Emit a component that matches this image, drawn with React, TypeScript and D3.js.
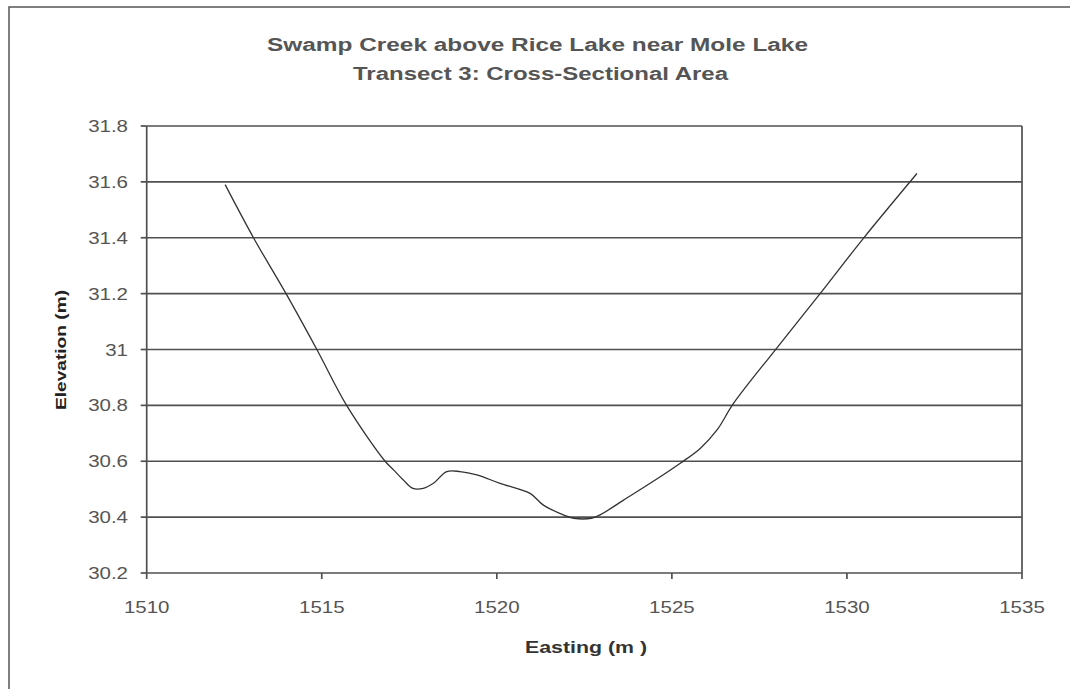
import React from "react";
import * as d3 from "d3";

const titleLines = ["Swamp Creek above Rice Lake near Mole Lake", "Transect 3: Cross-Sectional Area"];
const xLabel = "Easting (m )";
const yLabel = "Elevation (m)";

const easting = [
  1512.24, 1513.05, 1513.98, 1514.86, 1515.71, 1516.81, 1517.05, 1517.33, 1517.6, 1517.9,
  1518.19, 1518.57, 1518.95, 1519.43, 1520.09, 1520.95, 1521.33, 1521.9, 1522.2, 1522.7,
  1522.95, 1523.62, 1524.38, 1525.24, 1525.81, 1526.29, 1526.76, 1527.95, 1529.24, 1530.47, 1532.0,
];
const elevation = [
  31.59, 31.4, 31.2, 31.0, 30.8, 30.6, 30.569, 30.533, 30.503, 30.503,
  30.521, 30.563, 30.563, 30.551, 30.521, 30.485, 30.443, 30.408, 30.396, 30.396,
  30.408, 30.461, 30.521, 30.593, 30.646, 30.712, 30.807, 30.998, 31.201, 31.398, 31.63,
];

const yTicks = [30.2, 30.4, 30.6, 30.8, 31, 31.2, 31.4, 31.6, 31.8];
const xTicks = [1510, 1515, 1520, 1525, 1530, 1535];

export default function App() {
  const left = 146.7, right = 1022, top = 126, bottom = 573;
  const x = d3.scaleLinear().domain([1510, 1535]).range([left, right]);
  const y = d3.scaleLinear().domain([30.2, 31.8]).range([bottom, top]);
  const pts = easting.map((e, i) => [e, elevation[i]] as [number, number]);
  const line = d3
    .line<[number, number]>()
    .x((d) => x(d[0]))
    .y((d) => y(d[1]))
    .curve(d3.curveCatmullRom.alpha(0.5));
  const axisColor = "#505050";
  const textColor = "#555";
  const font = "Arial, 'Liberation Sans', sans-serif";
  const sx = 1.28;
  return (
    <svg
      width={1070}
      height={689}
      style={{ position: "absolute", left: 0, top: 0, display: "block", background: "#fff" }}
    >
      <rect x={0} y={0} width={1070} height={689} fill="#fff" />
      <rect x={9} y={7} width={1200} height={800} fill="none" stroke="#555" strokeWidth={1.5} />
      <text x={537.5} y={51} textAnchor="middle" fontFamily={font} fontWeight="bold" fontSize={18}
        fill={textColor} textLength={541} lengthAdjust="spacingAndGlyphs">{titleLines[0]}</text>
      <text x={540.5} y={80} textAnchor="middle" fontFamily={font} fontWeight="bold" fontSize={18}
        fill={textColor} textLength={375} lengthAdjust="spacingAndGlyphs">{titleLines[1]}</text>
      {yTicks.map((t) => (
        <g key={"y" + t}>
          <line x1={left} x2={right} y1={y(t)} y2={y(t)} stroke={axisColor} strokeWidth={1.7} />
          <line x1={left - 6} x2={left} y1={y(t)} y2={y(t)} stroke={axisColor} strokeWidth={1.7} />
          <text transform={`translate(128,${y(t) + 6}) scale(${sx},1)`} textAnchor="end"
            fontFamily={font} fontSize={16} fill={textColor}>
            {String(t)}
          </text>
        </g>
      ))}
      <line x1={left} x2={left} y1={top} y2={bottom} stroke={axisColor} strokeWidth={1.7} />
      <line x1={right} x2={right} y1={top} y2={bottom} stroke={axisColor} strokeWidth={1.7} />
      {xTicks.map((t) => (
        <g key={"x" + t}>
          <line x1={x(t)} x2={x(t)} y1={bottom} y2={bottom + 6} stroke={axisColor} strokeWidth={1.7} />
          <text transform={`translate(${x(t)},613) scale(${sx},1)`} textAnchor="middle"
            fontFamily={font} fontSize={16} fill={textColor}>
            {String(t)}
          </text>
        </g>
      ))}
      <path d={line(pts) || ""} fill="none" stroke="#333" strokeWidth={1.3} />
      <text x={586} y={653} textAnchor="middle" fontFamily={font} fontWeight="bold" fontSize={16}
        fill="#333" textLength={122} lengthAdjust="spacingAndGlyphs">{xLabel}</text>
      <text transform="translate(66,350) rotate(-90)" textAnchor="middle" fontFamily={font}
        fontWeight="bold" fontSize={15} fill="#222" textLength={120}
        lengthAdjust="spacingAndGlyphs">{yLabel}</text>
    </svg>
  );
}
